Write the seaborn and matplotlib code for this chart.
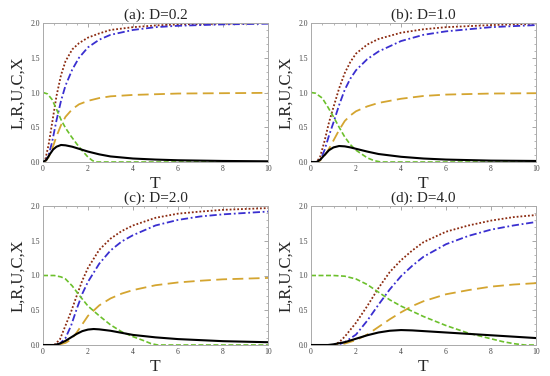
import numpy as np
import pandas as pd
import matplotlib
matplotlib.use("Agg")
import matplotlib.pyplot as plt
import seaborn as sns
from matplotlib.ticker import MultipleLocator

titles = ["(a): D=0.2", "(b): D=1.0", "(c): D=2.0", "(d): D=4.0"]
series_names = ["L", "R", "U", "C", "X"]

# ---- panel (a) D=0.2 ----
a_T_L = [0, 0.1, 0.25, 0.4, 0.6, 0.8, 1.0, 1.3, 1.6, 2.0, 2.5, 3, 4, 5, 6, 8, 10]
a_L = [0, 0.03, 0.25, 0.55, 0.95, 1.25, 1.45, 1.62, 1.71, 1.79, 1.85, 1.9, 1.94, 1.965, 1.98, 1.99, 2.0]
a_T_R = [0, 0.1, 0.25, 0.4, 0.6, 0.8, 1.0, 1.3, 1.6, 2.0, 2.5, 3, 4, 5, 6, 8, 10]
a_R = [0, 0.01, 0.1, 0.28, 0.6, 0.88, 1.1, 1.33, 1.5, 1.65, 1.76, 1.83, 1.9, 1.94, 1.96, 1.98, 1.99]
a_T_U = [0, 0.1, 0.25, 0.4, 0.6, 0.8, 1.0, 1.3, 1.6, 2.0, 2.5, 3, 4, 5, 6, 8, 10]
a_U = [0, 0.01, 0.07, 0.18, 0.37, 0.53, 0.65, 0.76, 0.83, 0.88, 0.92, 0.945, 0.965, 0.975, 0.985, 0.99, 0.995]
a_T_C = [0, 0.2, 0.4, 0.6, 0.8, 1.0, 1.25, 1.5, 1.75, 2.0, 2.2, 2.35, 3, 5, 10]
a_C = [1.0, 0.98, 0.9, 0.76, 0.61, 0.49, 0.37, 0.26, 0.16, 0.07, 0.02, 0.0, 0.0, 0.0, 0.0]
a_T_X = [0, 0.15, 0.3, 0.45, 0.6, 0.8, 1.0, 1.3, 1.6, 2.0, 2.5, 3, 4, 5, 6, 8, 10]
a_X = [0, 0.03, 0.11, 0.18, 0.22, 0.245, 0.24, 0.22, 0.19, 0.15, 0.11, 0.08, 0.05, 0.035, 0.025, 0.015, 0.01]

# ---- panel (b) D=1.0 ----
b_T_L = [0, 0.25, 0.4, 0.6, 0.8, 1.0, 1.25, 1.5, 1.75, 2.0, 2.5, 3, 4, 5, 6, 8, 10]
b_L = [0, 0.0, 0.07, 0.3, 0.57, 0.79, 1.06, 1.28, 1.44, 1.56, 1.69, 1.77, 1.86, 1.91, 1.94, 1.97, 1.99]
b_T_R = [0, 0.25, 0.4, 0.6, 0.8, 1.0, 1.25, 1.5, 1.75, 2.0, 2.5, 3, 4, 5, 6, 8, 10]
b_R = [0, 0.0, 0.02, 0.17, 0.38, 0.57, 0.82, 1.04, 1.2, 1.32, 1.48, 1.59, 1.74, 1.83, 1.88, 1.94, 1.97]
b_T_U = [0, 0.25, 0.4, 0.6, 0.8, 1.0, 1.25, 1.5, 1.75, 2.0, 2.5, 3, 4, 5, 6, 8, 10]
b_U = [0, 0.0, 0.02, 0.09, 0.19, 0.31, 0.46, 0.59, 0.67, 0.73, 0.8, 0.85, 0.91, 0.95, 0.97, 0.985, 0.99]
b_T_C = [0, 0.2, 0.5, 0.75, 1.0, 1.25, 1.5, 1.75, 2.0, 2.5, 2.8, 3.1, 4, 6, 10]
b_C = [1.0, 0.99, 0.92, 0.79, 0.65, 0.5, 0.36, 0.25, 0.17, 0.06, 0.02, 0.0, 0.0, 0.0, 0.0]
b_T_X = [0, 0.25, 0.4, 0.6, 0.8, 1.0, 1.25, 1.5, 1.75, 2.0, 2.5, 3, 4, 5, 6, 8, 10]
b_X = [0, 0.0, 0.03, 0.1, 0.17, 0.21, 0.23, 0.225, 0.21, 0.19, 0.15, 0.115, 0.075, 0.05, 0.035, 0.02, 0.015]

# ---- panel (c) D=2.0 ----
c_T_L = [0, 0.5, 0.75, 1.0, 1.25, 1.5, 1.75, 2.0, 2.5, 3, 3.5, 4, 5, 6, 7, 8, 10]
c_L = [0, 0.0, 0.08, 0.28, 0.48, 0.71, 0.93, 1.11, 1.37, 1.53, 1.64, 1.72, 1.83, 1.89, 1.92, 1.945, 1.97]
c_T_R = [0, 0.5, 0.75, 1.0, 1.25, 1.5, 1.75, 2.0, 2.5, 3, 3.5, 4, 5, 6, 7, 8, 10]
c_R = [0, 0.0, 0.02, 0.1, 0.28, 0.52, 0.74, 0.91, 1.17, 1.36, 1.49, 1.58, 1.72, 1.8, 1.85, 1.88, 1.92]
c_T_U = [0, 0.5, 0.75, 1.0, 1.25, 1.5, 1.75, 2.0, 2.5, 3, 3.5, 4, 5, 6, 7, 8, 10]
c_U = [0, 0.0, 0.01, 0.03, 0.08, 0.18, 0.3, 0.42, 0.57, 0.67, 0.74, 0.79, 0.86, 0.9, 0.925, 0.945, 0.965]
c_T_C = [0, 0.5, 0.8, 1.0, 1.3, 1.6, 2.0, 2.5, 3.0, 3.5, 4.0, 4.5, 4.8, 5.1, 7, 10]
c_C = [1.0, 1.0, 0.98, 0.95, 0.85, 0.72, 0.56, 0.42, 0.29, 0.19, 0.12, 0.06, 0.02, 0.0, 0.0, 0.0]
c_T_X = [0, 0.5, 0.75, 1.0, 1.25, 1.5, 1.75, 2.0, 2.25, 2.5, 3, 3.5, 4, 5, 6, 7, 8, 10]
c_X = [0, 0.0, 0.02, 0.06, 0.11, 0.16, 0.2, 0.222, 0.23, 0.225, 0.205, 0.175, 0.145, 0.11, 0.085, 0.07, 0.055, 0.04]

# ---- panel (d) D=4.0 ----
d_T_L = [0, 1.0, 1.25, 1.5, 2.0, 2.5, 3.0, 3.5, 4.0, 4.5, 5, 6, 7, 8, 9, 10]
d_L = [0, 0.0, 0.04, 0.12, 0.32, 0.56, 0.82, 1.05, 1.22, 1.36, 1.48, 1.63, 1.72, 1.79, 1.84, 1.87]
d_T_R = [0, 1.0, 1.25, 1.5, 2.0, 2.5, 3.0, 3.5, 4.0, 4.5, 5, 6, 7, 8, 9, 10]
d_R = [0, 0.0, 0.01, 0.04, 0.15, 0.35, 0.58, 0.8, 0.99, 1.14, 1.27, 1.45, 1.57, 1.66, 1.72, 1.77]
d_T_U = [0, 1.0, 1.25, 1.5, 2.0, 2.5, 3.0, 3.5, 4.0, 4.5, 5, 6, 7, 8, 9, 10]
d_U = [0, 0.0, 0.01, 0.02, 0.07, 0.15, 0.26, 0.37, 0.47, 0.56, 0.63, 0.73, 0.79, 0.84, 0.87, 0.89]
d_T_C = [0, 1.0, 1.5, 2.0, 2.5, 3.0, 3.5, 4.0, 5, 6, 7, 8, 8.5, 9, 9.5, 10]
d_C = [1.0, 1.0, 0.99, 0.95, 0.87, 0.76, 0.65, 0.56, 0.41, 0.28, 0.17, 0.09, 0.05, 0.02, 0.0, 0.0]
d_T_X = [0, 0.75, 1.0, 1.5, 2.0, 2.5, 3.0, 3.5, 4.0, 4.5, 5, 6, 7, 8, 9, 10]
d_X = [0, 0.0, 0.01, 0.04, 0.09, 0.14, 0.18, 0.205, 0.215, 0.21, 0.2, 0.18, 0.16, 0.14, 0.12, 0.1]

x_ticks = [0, 2, 4, 6, 8, 10]
x_tick_labels = ["0", "2", "4", "6", "8", "10"]
y_ticks = [0, 0.5, 1.0, 1.5, 2.0]
y_tick_labels = ["0.0", "0.5", "1.0", "1.5", "2.0"]

panels = [
    [(a_T_L, a_L), (a_T_R, a_R), (a_T_U, a_U), (a_T_C, a_C), (a_T_X, a_X)],
    [(b_T_L, b_L), (b_T_R, b_R), (b_T_U, b_U), (b_T_C, b_C), (b_T_X, b_X)],
    [(c_T_L, c_L), (c_T_R, c_R), (c_T_U, c_U), (c_T_C, c_C), (c_T_X, c_X)],
    [(d_T_L, d_L), (d_T_R, d_R), (d_T_U, d_U), (d_T_C, d_C), (d_T_X, d_X)],
]

styles = {
    "L": dict(color="#8b2a10", ls=(0, (1, 1.1)), lw=1.3),
    "R": dict(color="#3a2fd0", ls=(0, (4, 1.5, 1, 1.5)), lw=1.3),
    "U": dict(color="#d4a530", ls=(0, (6, 3)), lw=1.3),
    "C": dict(color="#6cc02c", ls=(0, (3, 1.5)), lw=1.2),
    "X": dict(color="black", ls="-", lw=1.5),
}

sns.set_theme(style="white")
plt.rcParams["font.family"] = ["Liberation Serif", "DejaVu Serif"]

fig = plt.figure(figsize=(5.5, 3.76), dpi=100)
rects = [
    (43 / 550, 1 - 162 / 376, 225 / 550, 139 / 376),
    (311 / 550, 1 - 162 / 376, 225 / 550, 139 / 376),
    (43 / 550, 1 - 345 / 376, 225 / 550, 139 / 376),
    (311 / 550, 1 - 345 / 376, 225 / 550, 139 / 376),
]

for i, (rect, data) in enumerate(zip(rects, panels)):
    ax = fig.add_axes(rect)
    for name, (t, y) in zip(series_names, data):
        st = styles[name]
        sns.lineplot(x=t, y=y, ax=ax, color=st["color"], linestyle=st["ls"],
                     linewidth=st["lw"], zorder=3 if name == "X" else 2)
    ax.set_xlim(0, 10)
    ax.set_ylim(0, 2.0)
    ax.set_xticks(x_ticks)
    ax.set_xticklabels(x_tick_labels)
    ax.set_yticks(y_ticks)
    ax.set_yticklabels(y_tick_labels)
    ax.xaxis.set_minor_locator(MultipleLocator(0.5))
    ax.yaxis.set_minor_locator(MultipleLocator(0.1))
    ax.tick_params(which="both", direction="in", top=True, right=True,
                   colors="#999999", labelcolor="#444444", labelsize=5.5,
                   pad=2)
    ax.tick_params(which="major", length=3, width=0.6)
    ax.tick_params(which="minor", length=1.5, width=0.5)
    for sp in ax.spines.values():
        sp.set_color("#aaaaaa")
        sp.set_linewidth(0.7)
    ax.set_title(titles[i], fontsize=11, pad=3)
    ax.set_xlabel("T", fontsize=12.5, labelpad=2)
    ax.set_ylabel("L,R,U,C,X", fontsize=12, labelpad=3)

fig.savefig("out.png", dpi=100)
